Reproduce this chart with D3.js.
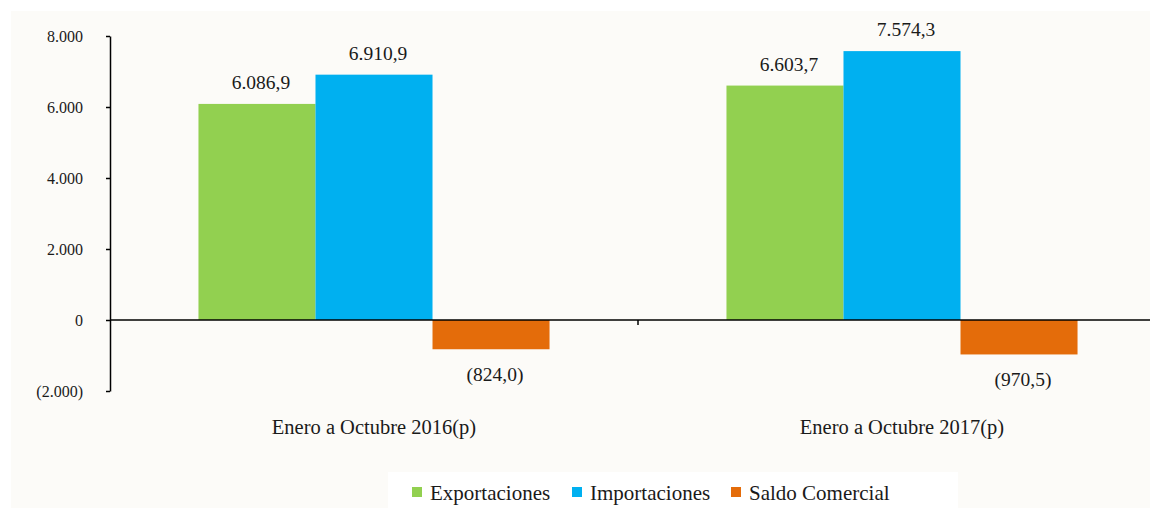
<!DOCTYPE html>
<html>
<head>
<meta charset="utf-8">
<script src="https://cdn.jsdelivr.net/npm/d3@7"></script>
<style>
	body { margin: 0; background: #ffffff; }
	text { font-family: "Liberation Serif", "DejaVu Serif", serif; fill: #1a1a1a; }
</style>
</head>
<body>
<svg></svg>
<script>
const categories = ["Enero a Octubre 2016(p)", "Enero a Octubre 2017(p)"];
const seriesNames = ["Exportaciones", "Importaciones", "Saldo Comercial"];
const exportaciones = [6086.9, 6603.7];
const importaciones = [6910.9, 7574.3];
const saldo = [-824.0, -970.5];
const yTicks = [-2000, 0, 2000, 4000, 6000, 8000];
const colors = ["#92d050", "#00b0f0", "#e46c0a"];

const size = { w: 1150, h: 508 };
const svg = d3.select("svg").attr("width", size.w).attr("height", size.h);

// plot background
svg.append("rect")
	.attr("x", 11).attr("y", 11)
	.attr("width", size.w - 11).attr("height", size.h - 11)
	.attr("fill", "#fcfbf8");

const series = [exportaciones, importaciones, saldo];
const data = categories.map((c, i) => ({
	cat: c,
	values: seriesNames.map((s, j) => ({ name: s, value: series[j][i], idx: j }))
}));

const x0 = d3.scaleBand().domain(categories).range([110, 1166]);
const x1 = d3.scaleBand().domain(seriesNames).range([0, x0.bandwidth()]).paddingOuter(0.756);
const y = d3.scaleLinear().domain([-2000, 8000]).range([391, 36]);

const fmt = (v) => {
	const s = d3.format(",.1f")(Math.abs(v)).replace(/,/g, "#").replace(".", ",").replace(/#/g, ".");
	return v < 0 ? `(${s})` : s;
};
const tickFmt = (v) => {
	const s = d3.format(",")(Math.abs(v)).replace(/,/g, ".");
	return v < 0 ? `(${s})` : s;
};

const groups = svg.append("g")
	.selectAll("g")
	.data(data)
	.join("g")
	.attr("transform", (d) => `translate(${x0(d.cat)},0)`);

groups.selectAll("rect")
	.data((d) => d.values)
	.join("rect")
	.attr("x", (d) => x1(d.name))
	.attr("width", x1.bandwidth())
	.attr("y", (d) => y(Math.max(0, d.value)))
	.attr("height", (d) => Math.abs(y(d.value) - y(0)))
	.attr("fill", (d) => colors[d.idx]);

groups.selectAll("text.val")
	.data((d) => d.values)
	.join("text")
	.classed("val", true)
	.attr("x", (d) => x1(d.name) + x1.bandwidth() / 2 + 4)
	.attr("y", (d) => (d.value >= 0 ? y(d.value) - 15 : y(d.value) + 32))
	.attr("text-anchor", "middle")
	.attr("font-size", 19.5)
	.text((d) => fmt(d.value));

// y axis
const yAxis = d3.axisLeft(y).tickValues(yTicks).tickFormat(tickFmt).tickSize(4).tickSizeOuter(0);
const yAxisG = svg.append("g").attr("transform", "translate(110,0)").call(yAxis);
yAxisG.select(".domain").attr("stroke", "#000").attr("stroke-width", 1.5);
yAxisG.selectAll(".tick line").attr("stroke", "#000").attr("stroke-width", 1.5);
yAxisG.selectAll(".tick text")
	.attr("x", -27)
	.attr("font-family", "Liberation Serif, DejaVu Serif, serif")
	.attr("font-size", 16)
	.attr("fill", "#1a1a1a");

// x axis at zero
svg.append("line")
	.attr("x1", 110).attr("x2", size.w)
	.attr("y1", y(0)).attr("y2", y(0))
	.attr("stroke", "#000").attr("stroke-width", 1.5);
svg.append("g")
	.selectAll("line")
	.data(categories.slice(1))
	.join("line")
	.attr("x1", (d) => x0(d)).attr("x2", (d) => x0(d))
	.attr("y1", y(0)).attr("y2", y(0) + 5)
	.attr("stroke", "#000").attr("stroke-width", 1.5);

svg.append("g")
	.selectAll("text")
	.data(categories)
	.join("text")
	.attr("x", (d) => x0(d) + x0.bandwidth() / 2)
	.attr("y", 434)
	.attr("text-anchor", "middle")
	.attr("font-size", 20.5)
	.text((d) => d);

// legend
svg.append("rect")
	.attr("x", 388).attr("y", 472)
	.attr("width", 570).attr("height", 36)
	.attr("fill", "#ffffff");
const legendX = [412, 572, 731];
seriesNames.forEach((s, i) => {
	svg.append("rect")
		.attr("x", legendX[i]).attr("y", 487)
		.attr("width", 10).attr("height", 10)
		.attr("fill", colors[i]);
	svg.append("text")
		.attr("x", legendX[i] + 18)
		.attr("y", 500)
		.attr("font-size", 21)
		.text(s);
});
</script>
</body>
</html>
